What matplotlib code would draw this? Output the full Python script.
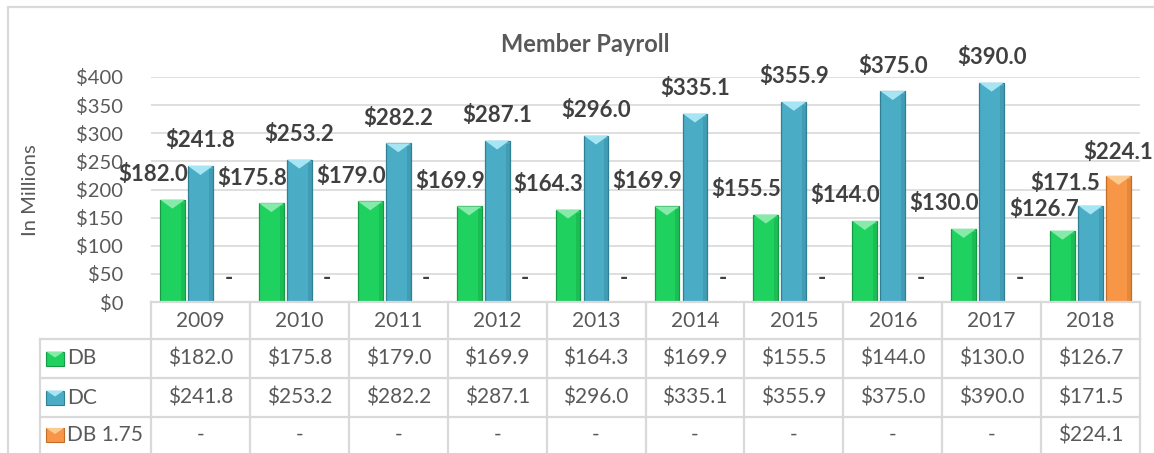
import matplotlib
matplotlib.use("Agg")
import matplotlib.pyplot as plt
import numpy as np
from matplotlib.patches import Rectangle, Polygon

years = ["2009", "2010", "2011", "2012", "2013", "2014", "2015", "2016", "2017", "2018"]
db = [182.0, 175.8, 179.0, 169.9, 164.3, 169.9, 155.5, 144.0, 130.0, 126.7]
dc = [241.8, 253.2, 282.2, 287.1, 296.0, 335.1, 355.9, 375.0, 390.0, 171.5]
db175 = [0, 0, 0, 0, 0, 0, 0, 0, 0, 224.1]
series_names = ["DB", "DC", "DB 1.75"]
yticks = [0, 50, 100, 150, 200, 250, 300, 350, 400]

face = ["#1FD25F", "#4BACC6", "#F79646"]
edge = ["#159A45", "#2F7F95", "#C46E25"]
light = ["#86EBA8", "#A6E6F4", "#FCCB92"]

FONT = "Lato"
GRAY = "#595959"
DARK = "#404040"
GRID = "#D9D9D9"

W, H = 1154, 453
fig = plt.figure(figsize=(W / 100, H / 100), dpi=100)

# outer chart frame (cut off on right/bottom like the screenshot)
fig.patches.append(Rectangle((8 / W, -0.1), 1.2, (H - 7) / H + 0.1, fill=False,
                             ec=GRID, lw=1.6, transform=fig.transFigure))

ax = fig.add_axes([151 / W, (H - 302) / H, 989 / W, 225 / H])
ax.set_xlim(-0.5, 9.5)
ax.set_ylim(0, 400)
for s in ax.spines.values():
    s.set_visible(False)
ax.set_yticks(yticks)
ax.set_yticklabels(["$%d" % v for v in yticks], fontsize=14.5, color=GRAY, family=FONT)
ax.tick_params(axis="y", length=0, pad=20)
ax.set_xticks([])
ax.grid(axis="y", color=GRID, lw=1.2)
ax.set_axisbelow(True)

x = np.arange(len(years))
step, bw = 0.283, 0.25
px = 400 / 225  # data units per pixel
for i, vals in enumerate([db, dc, db175]):
    xs = x + (i - 1) * step
    bars = ax.bar(xs, vals, bw, color=face[i], edgecolor=edge[i], linewidth=0.9, zorder=3)
    for b, v in zip(bars, vals):
        if v <= 0:
            continue
        x0, x1 = b.get_x(), b.get_x() + b.get_width()
        ax.add_patch(Polygon([(x0, v), (x1, v), ((x0 + x1) / 2, v - 9 * px)],
                             closed=True, fc=light[i], ec="none", zorder=4))
        ax.add_patch(Rectangle((x1 - 0.04, 0), 0.04, v - 3 * px, fc=edge[i],
                               alpha=0.35, ec="none", zorder=4))

    for k, (xx, v) in enumerate(zip(xs, vals)):
        if v <= 0:
            txt, dx, dy = "-", 0, 17
        else:
            txt = "$%.1f" % v
            dx, dy = 0, 18
            if i == 0:
                dx = -14 if k < 9 else -13
                dy = 18 if k < 9 else 15
            elif i == 1 and k == 9:
                dx, dy = -18, 16
            elif i == 2:
                dy = 17
        ax.annotate(txt, (xx, v), xytext=(dx, dy), textcoords="offset points",
                    ha="center", va="center", fontsize=16, fontweight="bold",
                    color=DARK, family=FONT, zorder=5, annotation_clip=False)

fig.text(585 / W, 1 - 45 / H, "Member Payroll", ha="center", va="center",
         fontsize=17, fontweight="bold", color=GRAY, family=FONT)
fig.text(30 / W, 1 - 190 / H, "In Millions", ha="center", va="center",
         rotation=90, fontsize=14.5, color=GRAY, family=FONT)

# data table under the chart
cw = 98.9
tx0 = -0.5 - 111 / cw
tab = fig.add_axes([40 / W, 0, 1100 / W, 151 / H])
tab.set_xlim(tx0, 9.5)
tab.set_ylim(151, 0)
tab.axis("off")
rows = [0, 37, 76, 115, 151]
lk = dict(color=GRID, lw=1.6, clip_on=False)
tab.plot([-0.5, 9.5], [0, 0], **lk)
for r in rows[1:4]:
    tab.plot([tx0, 9.5], [r, r], **lk)
for k in range(len(years) + 1):
    tab.plot([k - 0.5, k - 0.5], [0, 151], **lk)
tab.plot([tx0, tx0], [37, 151], **lk)

tk = dict(ha="center", va="center", fontsize=15, color=GRAY, family=FONT)
for k, yr in enumerate(years):
    tab.text(k, 19, yr, **tk)
for r, vals in enumerate([db, dc, db175]):
    yc = (rows[r + 1] + rows[r + 2]) / 2
    for k, v in enumerate(vals):
        tab.text(k, yc, "$%.1f" % v if v > 0 else "-", **tk)
    kx0, kx1 = tx0 + 6 / cw, tx0 + 24 / cw
    tab.add_patch(Rectangle((kx0, yc - 7), kx1 - kx0, 14, fc=face[r], ec=edge[r], lw=0.8))
    tab.add_patch(Polygon([(kx0, yc - 7), (kx1, yc - 7), ((kx0 + kx1) / 2, yc - 1)],
                          closed=True, fc=light[r], ec="none"))
    tab.text(tx0 + 27 / cw, yc, series_names[r], ha="left", va="center",
             fontsize=15, color=GRAY, family=FONT)

fig.savefig("out.png", dpi=100)
